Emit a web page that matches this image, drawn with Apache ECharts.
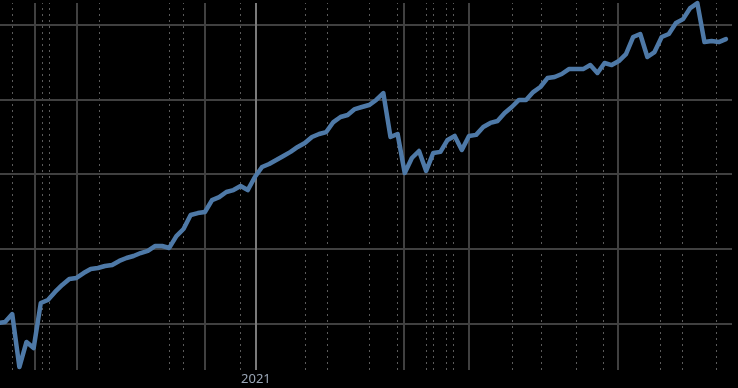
<!DOCTYPE html>
<html>
<head>
<meta charset="utf-8">
<script src="https://cdn.jsdelivr.net/npm/echarts@6/dist/echarts.min.js"></script>
<style>
html,body{margin:0;padding:0;background:#000;}
#chart{width:738px;height:388px;}
</style>
</head>
<body>
<div id="chart"></div>
<script>
const dates = [
'2020-04-23','2020-04-30','2020-05-07','2020-05-14','2020-05-21','2020-05-28','2020-06-04','2020-06-11','2020-06-18','2020-06-25',
'2020-07-02','2020-07-09','2020-07-16','2020-07-23','2020-07-30','2020-08-06','2020-08-13','2020-08-20','2020-08-27','2020-09-03',
'2020-09-10','2020-09-17','2020-09-24','2020-10-01','2020-10-08','2020-10-15','2020-10-22','2020-10-29','2020-11-05','2020-11-12',
'2020-11-19','2020-11-26','2020-12-03','2020-12-10','2020-12-17','2020-12-24','2020-12-31','2021-01-07','2021-01-14','2021-01-21',
'2021-01-28','2021-02-04','2021-02-11','2021-02-18','2021-02-25','2021-03-04','2021-03-11','2021-03-18','2021-03-25','2021-04-01',
'2021-04-08','2021-04-15','2021-04-22','2021-04-29','2021-05-06','2021-05-13','2021-05-20','2021-05-27','2021-06-03','2021-06-10',
'2021-06-17','2021-06-24','2021-07-01','2021-07-08','2021-07-15','2021-07-22','2021-07-29','2021-08-05','2021-08-12','2021-08-19',
'2021-08-26','2021-09-02','2021-09-09','2021-09-16','2021-09-23','2021-09-30','2021-10-07','2021-10-14','2021-10-21','2021-10-28',
'2021-11-04','2021-11-11','2021-11-18','2021-11-25','2021-12-02','2021-12-09','2021-12-16','2021-12-23','2021-12-30','2022-01-06',
'2022-01-13','2022-01-20','2022-01-27','2022-02-03','2022-02-10','2022-02-17','2022-02-24','2022-03-03','2022-03-10','2022-03-17',
'2022-03-24','2022-03-31','2022-04-07'
];
const values = [
3002,3009,3062,2707,2875,2834,3136,3156,3210,3257,
3297,3304,3337,3364,3371,3384,3391,3418,3438,3451,
3471,3485,3518,3518,3505,3585,3632,3726,3739,3746,
3826,3846,3880,3893,3920,3893,3981,4048,4068,4095,
4122,4149,4182,4209,4249,4269,4282,4349,4383,4396,
4436,4450,4463,4497,4543,4249,4269,4007,4108,4155,
4021,4142,4149,4229,4256,4162,4256,4263,4316,4343,
4356,4410,4450,4497,4497,4550,4584,4644,4651,4671,
4704,4704,4704,4731,4678,4745,4731,4758,4805,4919,
4939,4785,4818,4919,4939,5013,5039,5113,5146,4885,
4892,4885,4905
];
const yTicks = [3000, 3500, 4000, 4500, 5000];
const solidDates = ['2020-05-29','2020-07-09','2020-11-12','2021-05-26','2021-07-29','2021-12-22'];
const dottedDates = ['2020-05-07','2020-06-05','2020-06-12','2020-07-31','2020-10-08','2020-10-22','2020-12-17',
  '2021-02-18','2021-03-12','2021-04-22','2021-05-20','2021-06-17','2021-06-24','2021-07-07','2021-07-14',
  '2021-09-09','2021-10-08','2021-11-11','2021-12-08','2022-02-02','2022-02-23','2022-03-29'];
const yearDate = '2021-01-01';
const yearLabel = '2021';

const chart = echarts.init(document.getElementById('chart'), null, {renderer: 'canvas'});
const ml = (data, style, z) => ({
  type: 'line', data: [], silent: true, z: z, animation: false,
  markLine: { symbol: ['none','none'], silent: true, animation: false, label: {show: false}, lineStyle: style, data: data }
});
chart.setOption({
  backgroundColor: '#000000',
  animation: false,
  grid: { left: 0, right: 6, top: 3, bottom: 18 },
  xAxis: { type: 'time', min: '2020-04-25', max: '2022-04-13', show: false },
  yAxis: { type: 'value', min: 2687, max: 5147, show: false },
  series: [
    ml(dottedDates.map(d => ({xAxis: d})), {color: '#5a5a5a', width: 1, type: [2, 4]}, 1),
    ml(solidDates.map(d => ({xAxis: d})), {color: '#404040', width: 2, type: 'solid'}, 2),
    ml(yTicks.map(v => ({yAxis: v})), {color: '#404040', width: 2, type: 'solid'}, 2),
    {
      type: 'line', data: [], silent: true, z: 3, animation: false,
      markLine: {
        symbol: ['none','none'], silent: true, animation: false,
        lineStyle: {color: '#7a7a7a', width: 2, type: 'solid'},
        label: { show: true, position: 'start', formatter: yearLabel, color: '#9aa6b6',
                 fontFamily: 'Noto Sans', fontSize: 13, distance: 3 },
        data: [{xAxis: yearDate}]
      }
    },
    {
      type: 'line', z: 10, clip: false, showSymbol: false, silent: true,
      data: dates.map((d, i) => [d, values[i]]),
      lineStyle: { color: '#4e79a7', width: 4.5, join: 'round', cap: 'round' },
      itemStyle: { color: '#4e79a7' }
    }
  ]
});
</script>
</body>
</html>
